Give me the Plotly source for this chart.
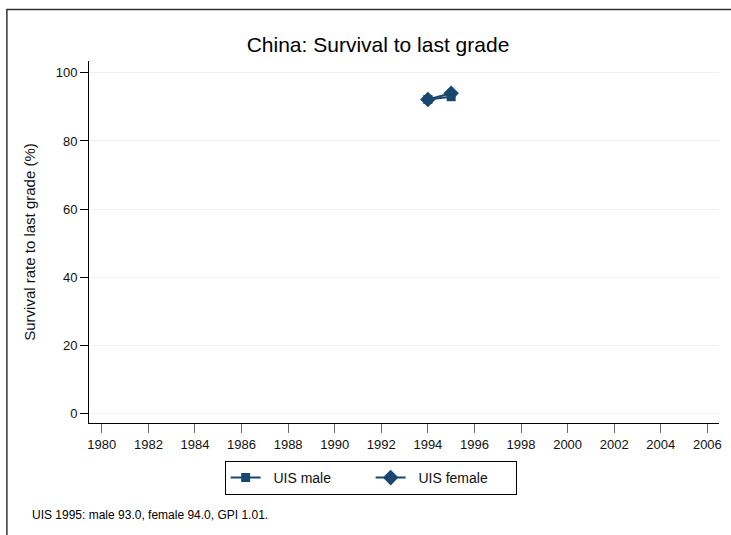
import plotly.graph_objects as go

years = [1994, 1995]
male = [92.2, 93.0]
female = [92.2, 94.0]
x_ticks = list(range(1980, 2007, 2))
y_ticks = [0, 20, 40, 60, 80, 100]
title = "China: Survival to last grade"
note = "UIS 1995: male 93.0, female 94.0, GPI 1.01."

navy = "#1a476f"
W, H = 731, 535
L, R, T, B = 89, 9, 61, 112
pw, ph = W - L - R, H - T - B

def px_x(p):
    return (p - L) / pw

def px_y(p):
    return (H - B - p) / ph

fig = go.Figure()
fig.add_trace(go.Scatter(x=years, y=male, mode="lines+markers", name="  UIS male",
                         line=dict(color=navy, width=2),
                         marker=dict(symbol="square", size=9, color=navy)))
fig.add_trace(go.Scatter(x=years, y=female, mode="lines+markers", name="  UIS female",
                         line=dict(color=navy, width=2),
                         marker=dict(symbol="diamond", size=12, color=navy)))

fig.update_layout(
    width=W, height=H,
    margin=dict(l=L, r=R, t=T, b=B),
    paper_bgcolor="white", plot_bgcolor="white",
    font=dict(family="Liberation Sans, Arial, sans-serif", color="#111", size=13),
    title=dict(text=title, x=378 / W, xanchor="center", y=1 - 45 / H, yanchor="middle",
               xref="container", yref="container", font=dict(size=21, color="#000")),
    showlegend=True,
    legend=dict(orientation="h", x=px_x(372), xanchor="center", y=px_y(461), yanchor="top",
                bordercolor="#000", borderwidth=1, font=dict(size=14),
                entrywidth=100, entrywidthmode="pixels", traceorder="normal"),
    xaxis=dict(range=[1979.45, 2006.5], tickvals=x_ticks, showgrid=False, zeroline=False,
               showline=True, linecolor="#000", linewidth=1,
               ticks="outside", ticklen=9, tickcolor="#666", tickfont=dict(size=13)),
    yaxis=dict(range=[-2.9, 103.5], tickvals=y_ticks, showgrid=True, gridcolor="#eaf2f3",
               gridwidth=1, zeroline=False, showline=True, linecolor="#000", linewidth=1,
               ticks="outside", ticklen=8, tickcolor="#000", tickfont=dict(size=13),
               title=dict(text="Survival rate to last grade (%)", font=dict(size=15), standoff=16)),
    shapes=[dict(type="rect", xref="paper", yref="paper",
                 x0=px_x(6.5), x1=px_x(745), y0=px_y(545), y1=px_y(9.5),
                 line=dict(color="#333", width=1.5), fillcolor="rgba(0,0,0,0)", layer="below")],
    annotations=[dict(text=note, xref="paper", yref="paper", x=px_x(30), y=px_y(515),
                      xanchor="left", yanchor="middle", showarrow=False,
                      font=dict(size=12, color="#000"))],
)

fig.write_html("out.html", config={"displayModeBar": False},
               post_script="document.body.style.margin='0';document.body.style.overflow='hidden';")
